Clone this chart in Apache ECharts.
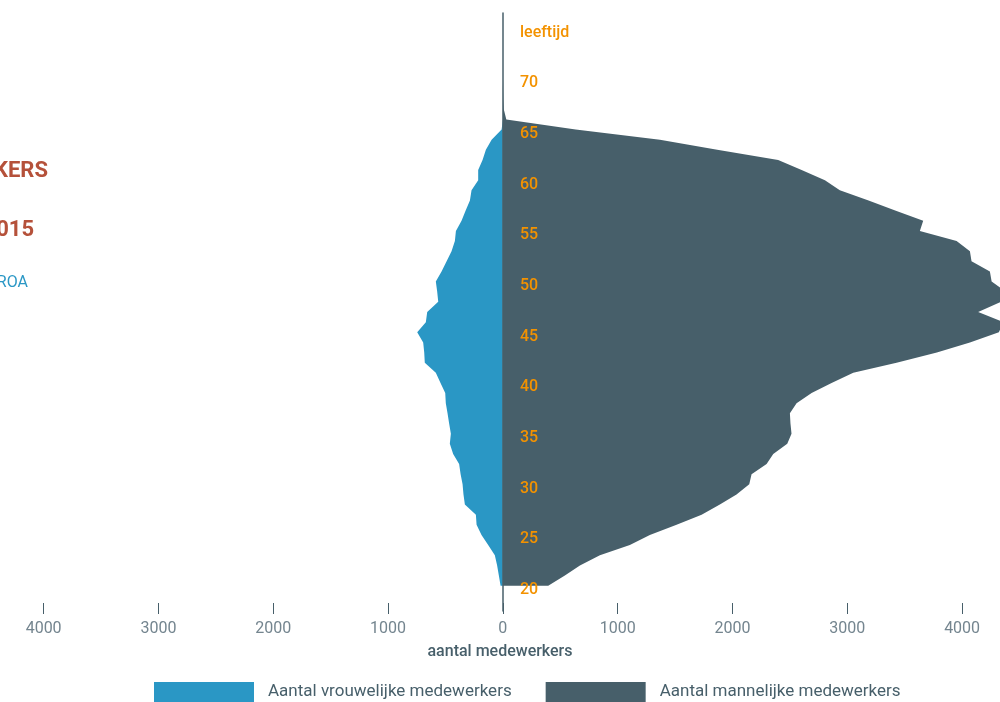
<!DOCTYPE html>
<html>
<head>
<meta charset="utf-8">
<script src="https://cdn.jsdelivr.net/npm/echarts@6/dist/echarts.min.js"></script>
<style>
  html, body { margin: 0; padding: 0; background: #ffffff; }
  #chart { width: 1000px; height: 702px; }
</style>
</head>
<body>
<div id="chart"></div>
<script>
// Leeftijden (jaren) met bijbehorend aantal medewerkers
const ages = [20, 21, 22, 23, 24, 25, 26, 27, 28, 29,
              30, 31, 32, 33, 34, 35, 36, 37, 38, 39,
              40, 41, 42, 43, 44, 45, 46, 47, 48, 49,
              50, 51, 52, 53, 54, 55, 56, 57, 58, 59,
              60, 61, 62, 63, 64, 65, 66, 67, 68, 69, 70];

const vrouwen = [20, 35, 50, 70, 128, 186, 229, 235, 331, 343,
                 351, 368, 381, 433, 462, 453, 468, 482, 497, 502,
                 543, 584, 680, 685, 694, 746, 671, 659, 563, 572,
                 584, 534, 490, 447, 418, 409, 360, 325, 287, 273,
                 215, 215, 177, 148, 98, 11, 0, 0, 0, 0, 0];

const mannen = [395, 540, 671, 845, 1106, 1280, 1513, 1731, 1890, 2035,
                2146, 2166, 2297, 2355, 2477, 2514, 2505, 2500, 2558, 2689,
                2863, 3052, 3429, 3780, 4068, 4320, 4360, 4140, 4340, 4380,
                4257, 4242, 4082, 4068, 3952, 3632, 3661, 3423, 3185, 2935,
                2805, 2602, 2398, 1867, 1368, 634, 30, 8, 4, 2, 2];

// Leeftijdsas en tekstlabels
const ageAxis = [];
for (let a = 18; a <= 76; a++) ageAxis.push(String(a));
const ageLabels = [20, 25, 30, 35, 40, 45, 50, 55, 60, 65, 70, 75];
const xTicks = [-4000, -3000, -2000, -1000, 0, 1000, 2000, 3000, 4000];

const BLUE = '#2a97c5';
const SLATE = '#475f6a';
const ORANGE = '#f39200';
const RUST = '#b5513a';
const FONT = 'Roboto, "Noto Sans", sans-serif';

const X_MIN = -4380;
const X_MAX = 4330;
const CHART_W = 1000;
// pixel position of the value 0 on the horizontal axis (grid spans the full width)
const zeroPx = Math.round((0 - X_MIN) / (X_MAX - X_MIN) * CHART_W);

const chart = echarts.init(document.getElementById('chart'), null, { renderer: 'canvas' });

chart.setOption({
  backgroundColor: '#ffffff',
  animation: false,
  textStyle: { fontFamily: FONT },
  grid: { left: 0, right: 0, top: 13, bottom: 91, containLabel: false, outerBoundsMode: 'none' },
  xAxis: {
    type: 'value',
    min: X_MIN,
    max: X_MAX,
    position: 'bottom',
    offset: 3,
    axisLine: { show: false, onZero: false },
    axisTick: { show: true, inside: true, length: 11, lineStyle: { color: SLATE, width: 1 }, customValues: xTicks },
    axisLabel: {
      customValues: xTicks,
      formatter: v => String(Math.abs(v)),
      color: '#74858f',
      fontSize: 16,
      fontFamily: FONT,
      margin: 7
    },
    splitLine: { show: false },
    name: 'aantal medewerkers',
    nameLocation: 'middle',
    nameGap: 30,
    nameTextStyle: { color: SLATE, fontSize: 16, fontWeight: 500, fontFamily: FONT }
  },
  yAxis: {
    type: 'category',
    data: ageAxis,
    boundaryGap: true,
    position: 'left',
    offset: -zeroPx,
    z: 5,
    axisLine: { show: true, onZero: false, lineStyle: { color: SLATE, width: 1.5 } },
    axisTick: { show: false },
    axisLabel: {
      inside: true,
      margin: 17,
      fontFamily: FONT,
      interval: (i, v) => ageLabels.indexOf(Number(v)) >= 0,
      formatter: v => '{t|' + (Number(v) === 75 ? 'leeftijd' : v) + '}',
      rich: {
        t: { color: ORANGE, fontSize: 16, fontWeight: 500, fontFamily: FONT, padding: [9, 0, 0, 0] }
      }
    },
    splitLine: { show: false }
  },
  legend: {
    left: 154,
    top: 682,
    padding: 0,
    icon: 'rect',
    itemWidth: 100,
    itemHeight: 20,
    itemGap: 34,
    selectedMode: false,
    textStyle: { color: SLATE, fontSize: 17, fontFamily: FONT, padding: [0, 0, 0, 9] },
    data: ['Aantal vrouwelijke medewerkers', 'Aantal mannelijke medewerkers']
  },
  graphic: [
    { type: 'text', x: 48, y: 171, style: { text: 'MEDEWERKERS', align: 'right', verticalAlign: 'middle', fill: RUST, font: 'bold 22px ' + FONT } },
    { type: 'text', x: 34, y: 230, style: { text: '2015', align: 'right', verticalAlign: 'middle', fill: RUST, font: 'bold 22px ' + FONT } },
    { type: 'text', x: 28, y: 283, style: { text: 'Bron: ROA', align: 'right', verticalAlign: 'middle', fill: BLUE, font: '16px ' + FONT } }
  ],
  series: [
    {
      name: 'Aantal vrouwelijke medewerkers',
      type: 'line',
      data: ages.map((a, i) => [-vrouwen[i], String(a)]),
      symbol: 'none',
      showSymbol: false,
      silent: true,
      lineStyle: { width: 0 },
      itemStyle: { color: BLUE },
      areaStyle: { color: BLUE, opacity: 1 }
    },
    {
      name: 'Aantal mannelijke medewerkers',
      type: 'line',
      data: ages.map((a, i) => [mannen[i], String(a)]),
      symbol: 'none',
      showSymbol: false,
      silent: true,
      lineStyle: { width: 0 },
      itemStyle: { color: SLATE },
      areaStyle: { color: SLATE, opacity: 1 }
    }
  ]
});
</script>
</body>
</html>
